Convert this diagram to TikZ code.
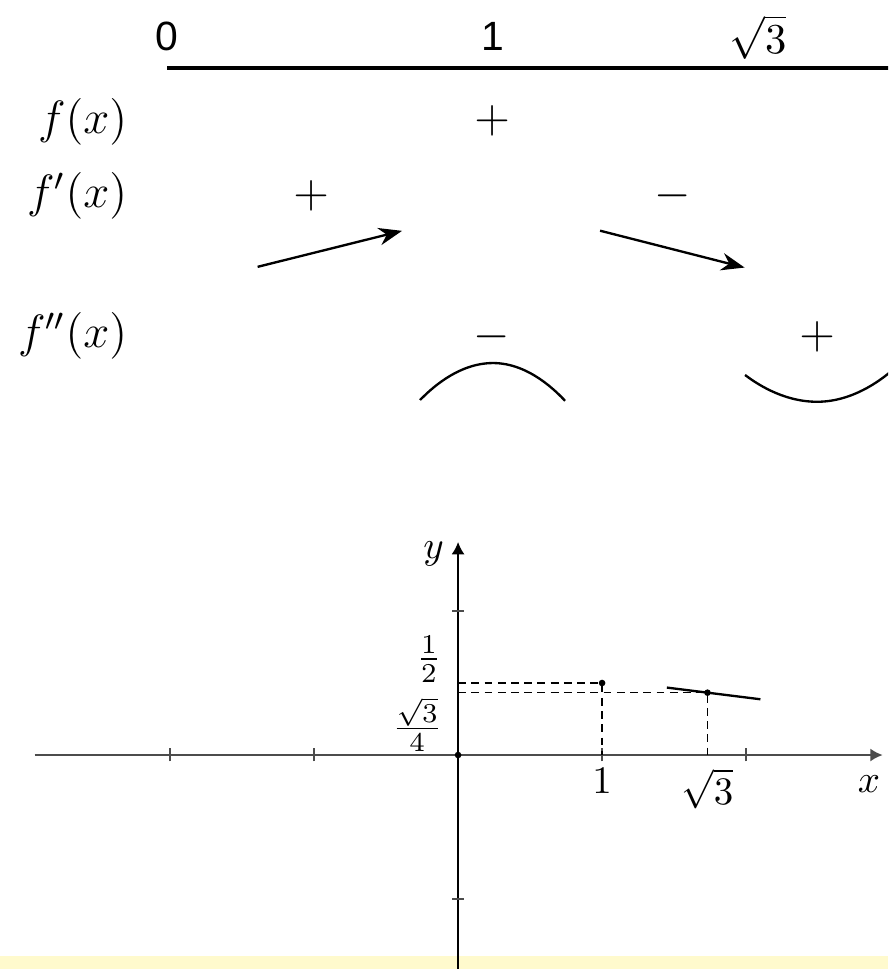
\documentclass[tikz,border=0pt]{standalone}
\usepackage{amsmath}
\usepackage{fontspec}
\newfontfamily\headfont{Liberation Sans}
\usetikzlibrary{arrows.meta}
\definecolor{bandyellow}{RGB}{255,250,205}

\begin{document}
\begin{tikzpicture}[>=Stealth,x=1.3cm,y=1.3cm,
  rowlab/.style={anchor=base east,inner sep=0pt,font=\large},
  sgn/.style={anchor=base,inner sep=0pt,font=\large},
  head/.style={anchor=base,inner sep=0pt,font=\fontsize{10.5}{12}\selectfont\headfont},
  axisline/.style={black!70,semithick},
  tickmark/.style={black!70,thin},
  guide/.style={thin,dash pattern=on 2pt off 1.4pt},
  bowl/.style={semithick}]
  \useasboundingbox (-3.181,-1.486) rectangle (2.986,5.243);
  \clip (-3.181,-1.486) rectangle (2.986,5.243);
  % pale band along the bottom
  \fill[bandyellow] (-3.181,-1.486) rectangle (2.986,-1.396);
  % table of signs
  \begin{scope}
    \draw[thick] (-2.021,4.771) -- (3.1,4.771);
    \node[head] (h0) at (-2.021,4.889) {0};
    \node[head] (h1) at (0.243,4.889) {1};
    \node[anchor=base,inner sep=0pt,font=\fontsize{11}{13}\selectfont] (h3) at (2.083,4.87) {$\sqrt{3}$};
    % row labels
    \node[rowlab] (lf) at (-2.292,4.319) {$f(x)$};
    \node[rowlab] (lfp) at (-2.292,3.805) {$f'(x)$};
    \node[rowlab] (lfpp) at (-2.292,2.830) {$f''(x)$};
    % signs
    \node[sgn] (sf) at (0.236,4.321) {$+$};
    \node[sgn] (sfp1) at (-1.021,3.805) {$+$};
    \node[sgn] (sfp2) at (1.493,3.805) {$-$};
    \node[sgn] (sfpp1) at (0.236,2.820) {$-$};
    \node[sgn] (sfpp2) at (2.493,2.820) {$+$};
    % monotonicity
    \coordinate (upA) at (-1.392,3.390);
    \coordinate (upB) at (-0.389,3.640);
    \coordinate (dnA) at (0.986,3.641);
    \coordinate (dnB) at (1.990,3.385);
    \draw[semithick,-{Stealth[length=6pt,width=4.5pt]}] (upA) -- (upB);
    \draw[semithick,-{Stealth[length=6pt,width=4.5pt]}] (dnA) -- (dnB);
    % concavity
    \coordinate (capL) at (-0.264,2.465);
    \coordinate (capT) at (0.243,2.722);
    \coordinate (capR) at (0.743,2.460);
    \coordinate (cupL) at (1.993,2.639);
    \coordinate (cupB) at (2.493,2.453);
    \coordinate (cupR) at (2.993,2.653);
    \draw[bowl] (capL) parabola bend (capT) (capR);
    \draw[bowl] (cupL) parabola bend (cupB) (cupR);
  \end{scope}
  % graph
  \begin{scope}
    \coordinate (O) at (0,0);
    \coordinate (xl) at (-2.94,0);
    \coordinate (xr) at (2.949,0);
    \coordinate (yb) at (0,-1.6);
    \coordinate (yt) at (0,1.48);
    \draw[axisline,-{Latex[length=3.2pt,width=3.4pt]}] (xl) -- (xr);
    \draw[thin] (yb) -- (O);
    \draw[semithick,-{Latex[length=3.2pt,width=3.4pt]}] (O) -- (yt);
    \foreach \t in {-2,-1,1,2}
      \draw[tickmark] (\t,-0.045) -- (\t,0.05);
    \foreach \t in {-1,1}
      \draw[tickmark] (-0.04,\t) -- (0.04,\t);
    \coordinate (P) at (1,0.5);
    \coordinate (Q) at ({sqrt(3)},{sqrt(3)/4});
    \draw[guide] (0,0.5) -- (P) -- (1,0);
    \draw[guide] (0,{sqrt(3)/4}) -- (Q) -- ({sqrt(3)},0);
    % tangent at the inflection point
    \draw[semithick,domain=1.45:2.1] plot (\x,{sqrt(3)/4-(\x-sqrt(3))/8});
    \fill (O) circle (0.85pt);
    \fill (P) circle (0.85pt);
    \fill (Q) circle (0.85pt);
    \node (ylab) at (-0.17,1.396) {$y$};
    \node (xlab) at (2.854,-0.2) {$x$};
    \node[below] (one) at (1,0) {$1$};
    \node[below] (rt3) at ({sqrt(3)},0) {$\sqrt{3}$};
    \node[anchor=south east,inner sep=0pt] (half) at (-0.111,0.5) {$\frac{1}{2}$};
    \node[anchor=north east,inner sep=0pt] (qrt) at (-0.104,0.405) {$\frac{\sqrt{3}}{4}$};
  \end{scope}
\end{tikzpicture}
\end{document}
